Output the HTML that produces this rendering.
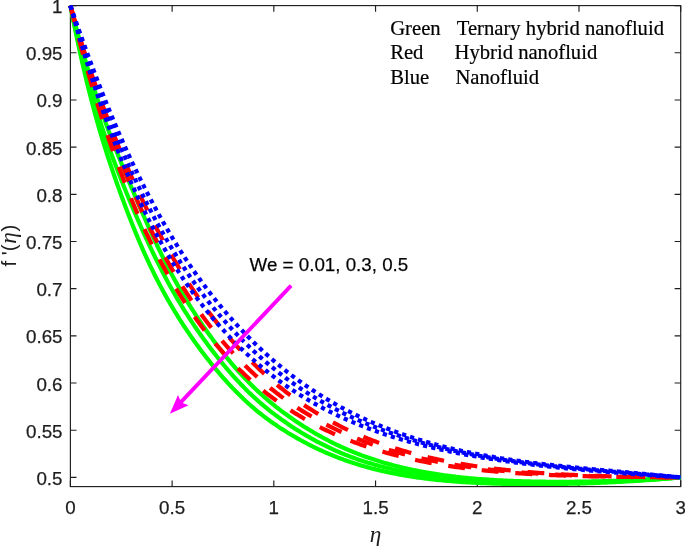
<!DOCTYPE html>
<html lang="en"><head><meta charset="utf-8"><title>Velocity profile</title>
<style>html,body{margin:0;padding:0;background:#fff}svg{display:block}</style></head>
<body>
<svg width="685" height="546" viewBox="0 0 685 546">
<rect width="685" height="546" fill="#fff"/>
<defs><clipPath id="c"><rect x="60" y="0" width="625" height="486.1"/></clipPath></defs>
<g stroke="#1e1e1e" stroke-width="1.15" fill="none">
<rect x="70.4" y="5.6" width="610.30" height="481.00"/>
<path d="M70.40,486.6 v-6.1 M70.40,5.6 v6.1"/>
<path d="M172.12,486.6 v-6.1 M172.12,5.6 v6.1"/>
<path d="M273.83,486.6 v-6.1 M273.83,5.6 v6.1"/>
<path d="M375.55,486.6 v-6.1 M375.55,5.6 v6.1"/>
<path d="M477.27,486.6 v-6.1 M477.27,5.6 v6.1"/>
<path d="M578.98,486.6 v-6.1 M578.98,5.6 v6.1"/>
<path d="M680.70,486.6 v-6.1 M680.70,5.6 v6.1"/>
<path d="M70.4,477.40 h6.1 M680.7,477.40 h-6.1"/>
<path d="M70.4,430.22 h6.1 M680.7,430.22 h-6.1"/>
<path d="M70.4,383.04 h6.1 M680.7,383.04 h-6.1"/>
<path d="M70.4,335.86 h6.1 M680.7,335.86 h-6.1"/>
<path d="M70.4,288.68 h6.1 M680.7,288.68 h-6.1"/>
<path d="M70.4,241.50 h6.1 M680.7,241.50 h-6.1"/>
<path d="M70.4,194.32 h6.1 M680.7,194.32 h-6.1"/>
<path d="M70.4,147.14 h6.1 M680.7,147.14 h-6.1"/>
<path d="M70.4,99.96 h6.1 M680.7,99.96 h-6.1"/>
<path d="M70.4,52.78 h6.1 M680.7,52.78 h-6.1"/>
<path d="M70.4,5.60 h6.1 M680.7,5.60 h-6.1"/>
</g>
<g font-family="'Liberation Sans', sans-serif" font-size="18.75" fill="#1e1e1e" stroke="#1e1e1e" stroke-width="0.25">
<text x="70.40" y="514.2" text-anchor="middle">0</text>
<text x="172.12" y="514.2" text-anchor="middle">0.5</text>
<text x="273.83" y="514.2" text-anchor="middle">1</text>
<text x="375.55" y="514.2" text-anchor="middle">1.5</text>
<text x="477.27" y="514.2" text-anchor="middle">2</text>
<text x="578.98" y="514.2" text-anchor="middle">2.5</text>
<text x="680.70" y="514.2" text-anchor="middle">3</text>
<text x="62.5" y="484.90" text-anchor="end">0.5</text>
<text x="62.5" y="437.72" text-anchor="end">0.55</text>
<text x="62.5" y="390.54" text-anchor="end">0.6</text>
<text x="62.5" y="343.36" text-anchor="end">0.65</text>
<text x="62.5" y="296.18" text-anchor="end">0.7</text>
<text x="62.5" y="249.00" text-anchor="end">0.75</text>
<text x="62.5" y="201.82" text-anchor="end">0.8</text>
<text x="62.5" y="154.64" text-anchor="end">0.85</text>
<text x="62.5" y="107.46" text-anchor="end">0.9</text>
<text x="62.5" y="60.28" text-anchor="end">0.95</text>
<text x="62.5" y="13.10" text-anchor="end">1</text>
<text x="249.6" y="271.2" fill="#000">We = 0.01, 0.3, 0.5</text>
</g>
<g fill="none" stroke-width="4.2" clip-path="url(#c)" stroke-linejoin="round">
<path d="M70.40,5.60 L71.93,13.45 L73.45,21.13 L74.98,28.65 L76.50,36.01 L78.03,43.22 L79.56,50.27 L81.08,57.18 L82.61,63.95 L84.14,70.58 L85.68,77.07 L87.21,83.43 L88.75,89.67 L90.29,95.79 L91.83,101.78 L93.38,107.65 L94.94,113.42 L96.50,119.07 L98.07,124.61 L99.64,130.05 L101.22,135.39 L102.80,140.63 L104.39,145.77 L105.98,150.82 L107.57,155.78 L109.16,160.65 L110.75,165.43 L112.34,170.13 L113.92,174.74 L115.50,179.28 L117.07,183.73 L118.63,188.11 L120.19,192.42 L121.73,196.66 L123.27,200.82 L124.80,204.92 L126.32,208.94 L127.84,212.91 L129.34,216.81 L130.85,220.65 L132.34,224.42 L133.83,228.14 L135.32,231.80 L136.80,235.41 L138.29,238.96 L139.77,242.45 L141.25,245.90 L142.73,249.29 L144.21,252.63 L145.69,255.92 L147.17,259.17 L148.66,262.37 L150.14,265.52 L151.63,268.63 L153.12,271.69 L154.62,274.71 L156.11,277.69 L157.61,280.63 L159.11,283.52 L160.61,286.38 L162.12,289.20 L163.63,291.98 L165.13,294.73 L166.64,297.44 L168.16,300.11 L169.67,302.75 L171.18,305.35 L172.70,307.92 L174.22,310.46 L175.73,312.96 L177.25,315.43 L178.77,317.88 L180.29,320.29 L181.81,322.67 L183.33,325.02 L184.86,327.35 L186.38,329.65 L187.90,331.92 L189.42,334.16 L190.95,336.37 L192.47,338.56 L194.00,340.73 L195.52,342.87 L197.05,344.98 L198.57,347.07 L200.09,349.14 L201.62,351.19 L203.14,353.21 L204.67,355.21 L206.20,357.19 L207.72,359.14 L209.25,361.07 L210.77,362.99 L212.30,364.88 L213.82,366.75 L215.35,368.60 L216.87,370.43 L218.40,372.23 L219.92,374.02 L221.45,375.79 L222.98,377.53 L224.50,379.26 L226.03,380.96 L227.55,382.65 L229.08,384.31 L230.60,385.95 L232.13,387.57 L233.66,389.17 L235.18,390.74 L236.71,392.30 L238.23,393.83 L239.76,395.34 L241.28,396.83 L242.81,398.30 L244.34,399.74 L245.86,401.16 L247.39,402.57 L248.91,403.94 L250.44,405.30 L251.96,406.64 L253.49,407.95 L255.02,409.25 L256.54,410.52 L258.07,411.77 L259.59,413.00 L261.12,414.21 L262.64,415.41 L264.17,416.58 L265.70,417.74 L267.22,418.87 L268.75,420.00 L270.27,421.10 L271.80,422.19 L273.32,423.26 L274.85,424.31 L276.38,425.35 L277.90,426.38 L279.43,427.39 L280.95,428.39 L282.48,429.37 L284.01,430.34 L285.53,431.30 L287.06,432.25 L288.58,433.18 L290.11,434.11 L291.63,435.02 L293.16,435.92 L294.69,436.80 L296.21,437.68 L297.74,438.55 L299.26,439.40 L300.79,440.25 L302.31,441.08 L303.84,441.90 L305.37,442.71 L306.89,443.51 L308.42,444.30 L309.94,445.08 L311.47,445.85 L312.99,446.61 L314.52,447.36 L316.05,448.10 L317.57,448.83 L319.10,449.54 L320.62,450.25 L322.15,450.95 L323.67,451.63 L325.20,452.31 L326.73,452.97 L328.25,453.63 L329.78,454.28 L331.30,454.91 L332.83,455.54 L334.35,456.15 L335.88,456.76 L337.41,457.36 L338.93,457.94 L340.46,458.52 L341.98,459.09 L343.51,459.65 L345.04,460.19 L346.56,460.73 L348.09,461.27 L349.61,461.79 L351.14,462.30 L352.66,462.80 L354.19,463.30 L355.72,463.79 L357.24,464.27 L358.77,464.74 L360.29,465.20 L361.82,465.65 L363.34,466.10 L364.87,466.54 L366.40,466.97 L367.92,467.39 L369.45,467.80 L370.97,468.21 L372.50,468.61 L374.02,469.00 L375.55,469.39 L377.08,469.76 L378.60,470.13 L380.13,470.50 L381.65,470.85 L383.18,471.20 L384.70,471.55 L386.23,471.88 L387.76,472.21 L389.28,472.54 L390.81,472.85 L392.33,473.16 L393.86,473.47 L395.38,473.77 L396.91,474.06 L398.44,474.35 L399.96,474.63 L401.49,474.90 L403.01,475.17 L404.54,475.43 L406.07,475.69 L407.59,475.94 L409.12,476.19 L410.64,476.43 L412.17,476.67 L413.69,476.90 L415.22,477.13 L416.75,477.35 L418.27,477.57 L419.80,477.78 L421.32,477.99 L422.85,478.19 L424.37,478.39 L425.90,478.58 L427.43,478.77 L428.95,478.96 L430.48,479.14 L432.00,479.31 L433.53,479.48 L435.05,479.65 L436.58,479.82 L438.11,479.98 L439.63,480.13 L441.16,480.28 L442.68,480.43 L444.21,480.58 L445.73,480.72 L447.26,480.85 L448.79,480.99 L450.31,481.12 L451.84,481.24 L453.36,481.37 L454.89,481.49 L456.41,481.60 L457.94,481.72 L459.47,481.83 L460.99,481.93 L462.52,482.04 L464.04,482.14 L465.57,482.24 L467.10,482.33 L468.62,482.42 L470.15,482.51 L471.67,482.60 L473.20,482.68 L474.72,482.76 L476.25,482.84 L477.78,482.92 L479.30,482.99 L480.83,483.06 L482.35,483.13 L483.88,483.19 L485.40,483.26 L486.93,483.32 L488.46,483.38 L489.98,483.43 L491.51,483.48 L493.03,483.54 L494.56,483.59 L496.08,483.63 L497.61,483.68 L499.14,483.72 L500.66,483.76 L502.19,483.80 L503.71,483.83 L505.24,483.87 L506.76,483.90 L508.29,483.93 L509.82,483.96 L511.34,483.99 L512.87,484.01 L514.39,484.03 L515.92,484.05 L517.44,484.07 L518.97,484.09 L520.50,484.11 L522.02,484.12 L523.55,484.13 L525.07,484.14 L526.60,484.15 L528.13,484.16 L529.65,484.16 L531.18,484.17 L532.70,484.17 L534.23,484.17 L535.75,484.17 L537.28,484.17 L538.81,484.16 L540.33,484.15 L541.86,484.15 L543.38,484.14 L544.91,484.13 L546.43,484.12 L547.96,484.10 L549.49,484.09 L551.01,484.07 L552.54,484.05 L554.06,484.03 L555.59,484.01 L557.11,483.99 L558.64,483.97 L560.17,483.94 L561.69,483.91 L563.22,483.88 L564.74,483.86 L566.27,483.82 L567.79,483.79 L569.32,483.76 L570.85,483.72 L572.37,483.69 L573.90,483.65 L575.42,483.61 L576.95,483.57 L578.47,483.53 L580.00,483.48 L581.53,483.44 L583.05,483.39 L584.58,483.34 L586.10,483.29 L587.63,483.24 L589.16,483.19 L590.68,483.14 L592.21,483.08 L593.73,483.03 L595.26,482.97 L596.78,482.91 L598.31,482.85 L599.84,482.79 L601.36,482.73 L602.89,482.66 L604.41,482.60 L605.94,482.53 L607.46,482.46 L608.99,482.39 L610.52,482.32 L612.04,482.24 L613.57,482.17 L615.09,482.09 L616.62,482.02 L618.14,481.94 L619.67,481.86 L621.20,481.78 L622.72,481.69 L624.25,481.61 L625.77,481.52 L627.30,481.44 L628.82,481.35 L630.35,481.26 L631.88,481.17 L633.40,481.07 L634.93,480.98 L636.45,480.88 L637.98,480.78 L639.50,480.68 L641.03,480.58 L642.56,480.48 L644.08,480.38 L645.61,480.27 L647.13,480.16 L648.66,480.05 L650.19,479.94 L651.71,479.83 L653.24,479.72 L654.76,479.60 L656.29,479.49 L657.81,479.37 L659.34,479.25 L660.87,479.13 L662.39,479.01 L663.92,478.88 L665.44,478.75 L666.97,478.63 L668.49,478.50 L670.02,478.37 L671.55,478.23 L673.07,478.10 L674.60,477.96 L676.12,477.82 L677.65,477.68 L679.17,477.54 L680.70,477.40" stroke="#00ff00"/>
<path d="M70.41,5.60 L71.93,12.87 L73.46,19.99 L75.00,26.96 L76.53,33.79 L78.07,40.47 L79.60,47.02 L81.15,53.43 L82.69,59.72 L84.25,65.87 L85.80,71.91 L87.37,77.83 L88.94,83.64 L90.51,89.33 L92.10,94.91 L93.69,100.39 L95.29,105.77 L96.90,111.05 L98.51,116.23 L100.13,121.32 L101.75,126.32 L103.38,131.23 L105.02,136.05 L106.66,140.79 L108.30,145.45 L109.93,150.03 L111.57,154.54 L113.21,158.97 L114.85,163.33 L116.48,167.61 L118.10,171.83 L119.72,175.98 L121.33,180.07 L122.94,184.09 L124.54,188.06 L126.12,191.96 L127.70,195.80 L129.27,199.59 L130.83,203.32 L132.38,207.00 L133.92,210.62 L135.46,214.20 L136.98,217.72 L138.49,221.20 L140.00,224.62 L141.50,228.00 L142.99,231.34 L144.48,234.63 L145.96,237.88 L147.44,241.08 L148.91,244.25 L150.37,247.37 L151.84,250.45 L153.30,253.50 L154.76,256.51 L156.22,259.48 L157.67,262.41 L159.13,265.31 L160.58,268.17 L162.04,271.00 L163.49,273.80 L164.95,276.56 L166.40,279.29 L167.86,281.99 L169.32,284.66 L170.78,287.30 L172.25,289.91 L173.71,292.49 L175.18,295.04 L176.65,297.57 L178.12,300.06 L179.59,302.53 L181.07,304.97 L182.54,307.39 L184.02,309.78 L185.51,312.14 L186.99,314.49 L188.48,316.80 L189.96,319.10 L191.45,321.37 L192.95,323.61 L194.44,325.84 L195.94,328.04 L197.43,330.22 L198.93,332.38 L200.43,334.52 L201.93,336.63 L203.44,338.73 L204.94,340.81 L206.45,342.86 L207.96,344.90 L209.47,346.92 L210.98,348.91 L212.49,350.89 L214.00,352.85 L215.51,354.79 L217.03,356.71 L218.54,358.61 L220.06,360.50 L221.57,362.36 L223.09,364.20 L224.61,366.02 L226.12,367.83 L227.64,369.61 L229.16,371.38 L230.68,373.12 L232.20,374.84 L233.72,376.55 L235.24,378.23 L236.76,379.89 L238.29,381.53 L239.81,383.15 L241.33,384.74 L242.85,386.32 L244.37,387.87 L245.90,389.40 L247.42,390.91 L248.94,392.40 L250.47,393.87 L251.99,395.31 L253.52,396.74 L255.04,398.14 L256.56,399.52 L258.09,400.88 L259.61,402.22 L261.14,403.55 L262.66,404.85 L264.19,406.13 L265.71,407.40 L267.24,408.64 L268.76,409.87 L270.29,411.08 L271.81,412.28 L273.34,413.46 L274.86,414.62 L276.39,415.76 L277.91,416.90 L279.44,418.01 L280.96,419.12 L282.49,420.20 L284.01,421.28 L285.54,422.34 L287.06,423.39 L288.59,424.43 L290.11,425.45 L291.64,426.46 L293.16,427.46 L294.69,428.44 L296.22,429.42 L297.74,430.38 L299.27,431.33 L300.79,432.27 L302.32,433.20 L303.84,434.11 L305.37,435.02 L306.89,435.91 L308.42,436.79 L309.95,437.66 L311.47,438.52 L313.00,439.37 L314.52,440.20 L316.05,441.03 L317.57,441.84 L319.10,442.64 L320.62,443.43 L322.15,444.21 L323.68,444.98 L325.20,445.74 L326.73,446.48 L328.25,447.21 L329.78,447.94 L331.30,448.65 L332.83,449.35 L334.36,450.04 L335.88,450.72 L337.41,451.39 L338.93,452.05 L340.46,452.70 L341.98,453.33 L343.51,453.96 L345.04,454.58 L346.56,455.18 L348.09,455.78 L349.61,456.37 L351.14,456.94 L352.66,457.51 L354.19,458.07 L355.72,458.61 L357.24,459.15 L358.77,459.68 L360.29,460.20 L361.82,460.71 L363.34,461.21 L364.87,461.71 L366.40,462.19 L367.92,462.67 L369.45,463.13 L370.97,463.59 L372.50,464.04 L374.02,464.48 L375.55,464.92 L377.08,465.34 L378.60,465.76 L380.13,466.17 L381.65,466.57 L383.18,466.97 L384.70,467.35 L386.23,467.73 L387.76,468.10 L389.28,468.47 L390.81,468.83 L392.33,469.18 L393.86,469.52 L395.39,469.86 L396.91,470.19 L398.44,470.51 L399.96,470.83 L401.49,471.14 L403.01,471.45 L404.54,471.74 L406.07,472.04 L407.59,472.32 L409.12,472.60 L410.64,472.88 L412.17,473.14 L413.69,473.41 L415.22,473.66 L416.75,473.92 L418.27,474.16 L419.80,474.40 L421.32,474.64 L422.85,474.87 L424.37,475.09 L425.90,475.31 L427.43,475.53 L428.95,475.74 L430.48,475.95 L432.00,476.15 L433.53,476.34 L435.05,476.54 L436.58,476.72 L438.11,476.91 L439.63,477.08 L441.16,477.26 L442.68,477.43 L444.21,477.60 L445.73,477.76 L447.26,477.92 L448.79,478.07 L450.31,478.22 L451.84,478.37 L453.36,478.51 L454.89,478.65 L456.41,478.79 L457.94,478.92 L459.47,479.05 L460.99,479.18 L462.52,479.30 L464.04,479.42 L465.57,479.54 L467.10,479.65 L468.62,479.76 L470.15,479.87 L471.67,479.97 L473.20,480.07 L474.72,480.17 L476.25,480.27 L477.78,480.36 L479.30,480.45 L480.83,480.54 L482.35,480.63 L483.88,480.71 L485.40,480.79 L486.93,480.87 L488.46,480.94 L489.98,481.01 L491.51,481.09 L493.03,481.15 L494.56,481.22 L496.08,481.28 L497.61,481.35 L499.14,481.40 L500.66,481.46 L502.19,481.52 L503.71,481.57 L505.24,481.62 L506.76,481.67 L508.29,481.72 L509.82,481.77 L511.34,481.81 L512.87,481.85 L514.39,481.89 L515.92,481.93 L517.44,481.97 L518.97,482.00 L520.50,482.03 L522.02,482.07 L523.55,482.10 L525.07,482.12 L526.60,482.15 L528.13,482.18 L529.65,482.20 L531.18,482.22 L532.70,482.24 L534.23,482.26 L535.75,482.28 L537.28,482.29 L538.81,482.31 L540.33,482.32 L541.86,482.33 L543.38,482.34 L544.91,482.35 L546.43,482.36 L547.96,482.37 L549.49,482.37 L551.01,482.37 L552.54,482.37 L554.06,482.38 L555.59,482.37 L557.11,482.37 L558.64,482.37 L560.17,482.36 L561.69,482.36 L563.22,482.35 L564.74,482.34 L566.27,482.33 L567.79,482.32 L569.32,482.31 L570.85,482.29 L572.37,482.28 L573.90,482.26 L575.42,482.24 L576.95,482.22 L578.47,482.20 L580.00,482.18 L581.53,482.16 L583.05,482.13 L584.58,482.11 L586.10,482.08 L587.63,482.05 L589.16,482.02 L590.68,481.99 L592.21,481.96 L593.73,481.92 L595.26,481.89 L596.78,481.85 L598.31,481.81 L599.84,481.77 L601.36,481.73 L602.89,481.69 L604.41,481.65 L605.94,481.60 L607.46,481.55 L608.99,481.51 L610.52,481.46 L612.04,481.41 L613.57,481.35 L615.09,481.30 L616.62,481.24 L618.14,481.19 L619.67,481.13 L621.20,481.07 L622.72,481.01 L624.25,480.95 L625.77,480.88 L627.30,480.82 L628.82,480.75 L630.35,480.68 L631.88,480.61 L633.40,480.54 L634.93,480.46 L636.45,480.39 L637.98,480.31 L639.50,480.23 L641.03,480.15 L642.56,480.07 L644.08,479.98 L645.61,479.90 L647.13,479.81 L648.66,479.72 L650.19,479.63 L651.71,479.53 L653.24,479.44 L654.76,479.34 L656.29,479.24 L657.81,479.14 L659.34,479.04 L660.87,478.94 L662.39,478.83 L663.92,478.72 L665.44,478.61 L666.97,478.50 L668.49,478.39 L670.02,478.27 L671.55,478.15 L673.07,478.03 L674.60,477.91 L676.12,477.79 L677.65,477.66 L679.17,477.53 L680.70,477.40" stroke="#00ff00"/>
<path d="M70.40,5.60 L71.93,11.54 L73.45,17.40 L74.98,23.19 L76.51,28.89 L78.04,34.52 L79.57,40.07 L81.10,45.55 L82.63,50.96 L84.17,56.29 L85.71,61.56 L87.25,66.75 L88.79,71.88 L90.34,76.95 L91.90,81.95 L93.46,86.88 L95.02,91.76 L96.60,96.57 L98.18,101.32 L99.77,106.02 L101.36,110.65 L102.96,115.23 L104.57,119.75 L106.19,124.22 L107.81,128.63 L109.44,132.99 L111.07,137.30 L112.71,141.55 L114.34,145.76 L115.98,149.91 L117.61,154.02 L119.25,158.07 L120.87,162.08 L122.50,166.04 L124.11,169.96 L125.72,173.83 L127.32,177.66 L128.91,181.44 L130.48,185.18 L132.05,188.88 L133.61,192.53 L135.15,196.15 L136.68,199.72 L138.20,203.25 L139.71,206.75 L141.21,210.20 L142.70,213.61 L144.19,216.99 L145.66,220.33 L147.13,223.63 L148.59,226.90 L150.05,230.13 L151.50,233.33 L152.95,236.49 L154.40,239.61 L155.84,242.70 L157.29,245.76 L158.73,248.79 L160.18,251.78 L161.63,254.74 L163.08,257.66 L164.53,260.56 L165.98,263.42 L167.44,266.26 L168.90,269.06 L170.36,271.84 L171.82,274.58 L173.29,277.30 L174.76,279.98 L176.24,282.64 L177.72,285.27 L179.20,287.87 L180.68,290.45 L182.17,293.00 L183.66,295.52 L185.15,298.01 L186.65,300.49 L188.15,302.93 L189.65,305.35 L191.15,307.75 L192.65,310.12 L194.16,312.47 L195.67,314.79 L197.18,317.09 L198.69,319.37 L200.20,321.62 L201.72,323.86 L203.23,326.07 L204.75,328.26 L206.27,330.42 L207.78,332.57 L209.30,334.69 L210.82,336.80 L212.34,338.88 L213.86,340.94 L215.38,342.99 L216.90,345.01 L218.43,347.01 L219.95,348.98 L221.47,350.94 L223.00,352.88 L224.52,354.80 L226.04,356.69 L227.57,358.56 L229.09,360.42 L230.62,362.25 L232.14,364.06 L233.66,365.84 L235.19,367.61 L236.71,369.35 L238.24,371.07 L239.76,372.77 L241.29,374.44 L242.81,376.09 L244.34,377.72 L245.86,379.33 L247.39,380.91 L248.92,382.48 L250.44,384.02 L251.97,385.53 L253.49,387.03 L255.02,388.50 L256.54,389.95 L258.07,391.38 L259.59,392.79 L261.12,394.18 L262.65,395.55 L264.17,396.90 L265.70,398.23 L267.22,399.54 L268.75,400.83 L270.27,402.10 L271.80,403.36 L273.33,404.60 L274.85,405.83 L276.38,407.04 L277.90,408.23 L279.43,409.41 L280.95,410.57 L282.48,411.72 L284.01,412.85 L285.53,413.98 L287.06,415.08 L288.58,416.18 L290.11,417.26 L291.63,418.33 L293.16,419.39 L294.69,420.44 L296.21,421.47 L297.74,422.49 L299.26,423.50 L300.79,424.50 L302.31,425.49 L303.84,426.46 L305.37,427.42 L306.89,428.38 L308.42,429.32 L309.94,430.25 L311.47,431.16 L312.99,432.07 L314.52,432.96 L316.05,433.85 L317.57,434.72 L319.10,435.58 L320.62,436.43 L322.15,437.27 L323.67,438.10 L325.20,438.91 L326.73,439.72 L328.25,440.51 L329.78,441.29 L331.30,442.07 L332.83,442.83 L334.35,443.58 L335.88,444.32 L337.41,445.05 L338.93,445.77 L340.46,446.47 L341.98,447.17 L343.51,447.86 L345.04,448.54 L346.56,449.21 L348.09,449.86 L349.61,450.51 L351.14,451.15 L352.66,451.78 L354.19,452.40 L355.72,453.00 L357.24,453.60 L358.77,454.19 L360.29,454.78 L361.82,455.35 L363.34,455.91 L364.87,456.47 L366.40,457.01 L367.92,457.55 L369.45,458.08 L370.97,458.60 L372.50,459.11 L374.02,459.61 L375.55,460.10 L377.08,460.59 L378.60,461.07 L380.13,461.54 L381.65,462.00 L383.18,462.46 L384.70,462.90 L386.23,463.34 L387.76,463.78 L389.28,464.20 L390.81,464.62 L392.33,465.03 L393.86,465.43 L395.38,465.83 L396.91,466.21 L398.44,466.60 L399.96,466.97 L401.49,467.34 L403.01,467.70 L404.54,468.06 L406.07,468.41 L407.59,468.75 L409.12,469.09 L410.64,469.42 L412.17,469.74 L413.69,470.06 L415.22,470.37 L416.75,470.67 L418.27,470.97 L419.80,471.27 L421.32,471.56 L422.85,471.84 L424.37,472.12 L425.90,472.39 L427.43,472.66 L428.95,472.92 L430.48,473.17 L432.00,473.43 L433.53,473.67 L435.05,473.91 L436.58,474.15 L438.11,474.38 L439.63,474.61 L441.16,474.83 L442.68,475.04 L444.21,475.26 L445.73,475.46 L447.26,475.67 L448.79,475.87 L450.31,476.06 L451.84,476.25 L453.36,476.44 L454.89,476.62 L456.41,476.80 L457.94,476.97 L459.47,477.14 L460.99,477.30 L462.52,477.47 L464.04,477.62 L465.57,477.78 L467.10,477.93 L468.62,478.07 L470.15,478.22 L471.67,478.36 L473.20,478.49 L474.72,478.62 L476.25,478.75 L477.78,478.88 L479.30,479.00 L480.83,479.12 L482.35,479.24 L483.88,479.35 L485.40,479.46 L486.93,479.57 L488.46,479.67 L489.98,479.77 L491.51,479.87 L493.03,479.96 L494.56,480.05 L496.08,480.14 L497.61,480.23 L499.14,480.31 L500.66,480.39 L502.19,480.47 L503.71,480.55 L505.24,480.62 L506.76,480.69 L508.29,480.76 L509.82,480.82 L511.34,480.89 L512.87,480.95 L514.39,481.00 L515.92,481.06 L517.44,481.11 L518.97,481.17 L520.50,481.21 L522.02,481.26 L523.55,481.31 L525.07,481.35 L526.60,481.39 L528.13,481.43 L529.65,481.46 L531.18,481.50 L532.70,481.53 L534.23,481.56 L535.75,481.59 L537.28,481.62 L538.81,481.64 L540.33,481.66 L541.86,481.68 L543.38,481.70 L544.91,481.72 L546.43,481.74 L547.96,481.75 L549.49,481.76 L551.01,481.77 L552.54,481.78 L554.06,481.79 L555.59,481.79 L557.11,481.80 L558.64,481.80 L560.17,481.80 L561.69,481.80 L563.22,481.79 L564.74,481.79 L566.27,481.78 L567.79,481.78 L569.32,481.77 L570.85,481.76 L572.37,481.74 L573.90,481.73 L575.42,481.72 L576.95,481.70 L578.47,481.68 L580.00,481.66 L581.53,481.64 L583.05,481.62 L584.58,481.59 L586.10,481.57 L587.63,481.54 L589.16,481.52 L590.68,481.49 L592.21,481.46 L593.73,481.42 L595.26,481.39 L596.78,481.36 L598.31,481.32 L599.84,481.28 L601.36,481.24 L602.89,481.20 L604.41,481.16 L605.94,481.12 L607.46,481.08 L608.99,481.03 L610.52,480.98 L612.04,480.94 L613.57,480.89 L615.09,480.84 L616.62,480.78 L618.14,480.73 L619.67,480.68 L621.20,480.62 L622.72,480.56 L624.25,480.50 L625.77,480.44 L627.30,480.38 L628.82,480.32 L630.35,480.26 L631.88,480.19 L633.40,480.13 L634.93,480.06 L636.45,479.99 L637.98,479.92 L639.50,479.85 L641.03,479.78 L642.56,479.70 L644.08,479.63 L645.61,479.55 L647.13,479.47 L648.66,479.39 L650.19,479.31 L651.71,479.23 L653.24,479.14 L654.76,479.06 L656.29,478.97 L657.81,478.89 L659.34,478.80 L660.87,478.71 L662.39,478.61 L663.92,478.52 L665.44,478.43 L666.97,478.33 L668.49,478.23 L670.02,478.13 L671.55,478.03 L673.07,477.93 L674.60,477.83 L676.12,477.72 L677.65,477.62 L679.17,477.51 L680.70,477.40" stroke="#00ff00"/>
<path d="M70.40,5.60 L71.93,11.75 L73.45,17.83 L74.98,23.83 L76.50,29.76 L78.03,35.62 L79.55,41.40 L81.08,47.11 L82.61,52.74 L84.13,58.31 L85.66,63.81 L87.18,69.23 L88.71,74.59 L90.23,79.87 L91.76,85.09 L93.29,90.25 L94.81,95.33 L96.34,100.35 L97.86,105.31 L99.39,110.20 L100.92,115.03 L102.44,119.79 L103.97,124.50 L105.49,129.14 L107.02,133.72 L108.54,138.24 L110.07,142.70 L111.60,147.10 L113.12,151.45 L114.65,155.74 L116.17,159.97 L117.70,164.15 L119.22,168.27 L120.75,172.33 L122.28,176.35 L123.80,180.31 L125.33,184.21 L126.85,188.07 L128.38,191.88 L129.90,195.63 L131.43,199.34 L132.96,202.99 L134.48,206.60 L136.01,210.16 L137.53,213.68 L139.06,217.14 L140.58,220.57 L142.11,223.94 L143.64,227.28 L145.16,230.57 L146.69,233.81 L148.21,237.02 L149.74,240.18 L151.26,243.30 L152.79,246.38 L154.32,249.41 L155.84,252.41 L157.37,255.37 L158.89,258.30 L160.42,261.18 L161.94,264.02 L163.47,266.83 L165.00,269.61 L166.52,272.34 L168.05,275.04 L169.57,277.71 L171.10,280.34 L172.63,282.94 L174.15,285.50 L175.68,288.03 L177.20,290.53 L178.73,293.00 L180.25,295.44 L181.78,297.84 L183.31,300.21 L184.83,302.56 L186.36,304.87 L187.88,307.15 L189.41,309.41 L190.93,311.63 L192.46,313.83 L193.99,316.00 L195.51,318.14 L197.04,320.26 L198.56,322.35 L200.09,324.41 L201.61,326.45 L203.14,328.46 L204.67,330.44 L206.19,332.40 L207.72,334.34 L209.24,336.25 L210.77,338.14 L212.29,340.00 L213.82,341.84 L215.35,343.66 L216.87,345.46 L218.40,347.23 L219.92,348.98 L221.45,350.71 L222.98,352.42 L224.50,354.11 L226.03,355.78 L227.55,357.42 L229.08,359.05 L230.60,360.65 L232.13,362.24 L233.66,363.80 L235.18,365.35 L236.71,366.88 L238.23,368.39 L239.76,369.88 L241.28,371.35 L242.81,372.80 L244.34,374.24 L245.86,375.66 L247.39,377.06 L248.91,378.45 L250.44,379.81 L251.96,381.16 L253.49,382.50 L255.02,383.82 L256.54,385.12 L258.07,386.40 L259.59,387.67 L261.12,388.93 L262.64,390.17 L264.17,391.39 L265.70,392.60 L267.22,393.79 L268.75,394.97 L270.27,396.14 L271.80,397.29 L273.32,398.43 L274.85,399.55 L276.38,400.66 L277.90,401.75 L279.43,402.84 L280.95,403.90 L282.48,404.96 L284.01,406.00 L285.53,407.03 L287.06,408.05 L288.58,409.06 L290.11,410.05 L291.63,411.03 L293.16,412.00 L294.69,412.95 L296.21,413.90 L297.74,414.83 L299.26,415.75 L300.79,416.66 L302.31,417.56 L303.84,418.45 L305.37,419.32 L306.89,420.19 L308.42,421.04 L309.94,421.88 L311.47,422.72 L312.99,423.54 L314.52,424.35 L316.05,425.15 L317.57,425.95 L319.10,426.73 L320.62,427.50 L322.15,428.26 L323.67,429.02 L325.20,429.76 L326.73,430.49 L328.25,431.22 L329.78,431.93 L331.30,432.64 L332.83,433.33 L334.35,434.02 L335.88,434.70 L337.41,435.37 L338.93,436.03 L340.46,436.68 L341.98,437.33 L343.51,437.97 L345.03,438.59 L346.56,439.21 L348.09,439.82 L349.61,440.43 L351.14,441.02 L352.66,441.61 L354.19,442.19 L355.72,442.76 L357.24,443.33 L358.77,443.88 L360.29,444.43 L361.82,444.97 L363.34,445.51 L364.87,446.04 L366.40,446.56 L367.92,447.07 L369.45,447.58 L370.97,448.08 L372.50,448.57 L374.02,449.06 L375.55,449.53 L377.08,450.01 L378.60,450.47 L380.13,450.93 L381.65,451.39 L383.18,451.83 L384.70,452.27 L386.23,452.71 L387.76,453.14 L389.28,453.56 L390.81,453.98 L392.33,454.39 L393.86,454.79 L395.38,455.19 L396.91,455.58 L398.44,455.97 L399.96,456.35 L401.49,456.73 L403.01,457.10 L404.54,457.46 L406.07,457.82 L407.59,458.18 L409.12,458.53 L410.64,458.87 L412.17,459.21 L413.69,459.55 L415.22,459.88 L416.75,460.20 L418.27,460.52 L419.80,460.83 L421.32,461.14 L422.85,461.45 L424.37,461.75 L425.90,462.05 L427.43,462.34 L428.95,462.62 L430.48,462.91 L432.00,463.18 L433.53,463.46 L435.05,463.73 L436.58,463.99 L438.11,464.25 L439.63,464.51 L441.16,464.76 L442.68,465.01 L444.21,465.26 L445.73,465.50 L447.26,465.74 L448.79,465.97 L450.31,466.20 L451.84,466.42 L453.36,466.65 L454.89,466.86 L456.41,467.08 L457.94,467.29 L459.47,467.50 L460.99,467.70 L462.52,467.90 L464.04,468.10 L465.57,468.30 L467.10,468.49 L468.62,468.67 L470.15,468.86 L471.67,469.04 L473.20,469.22 L474.72,469.39 L476.25,469.57 L477.78,469.73 L479.30,469.90 L480.83,470.06 L482.35,470.22 L483.88,470.38 L485.40,470.54 L486.93,470.69 L488.46,470.84 L489.98,470.98 L491.51,471.13 L493.03,471.27 L494.56,471.41 L496.08,471.55 L497.61,471.68 L499.14,471.81 L500.66,471.94 L502.19,472.07 L503.71,472.19 L505.24,472.31 L506.76,472.43 L508.29,472.55 L509.82,472.66 L511.34,472.78 L512.87,472.89 L514.39,473.00 L515.92,473.10 L517.44,473.21 L518.97,473.31 L520.50,473.41 L522.02,473.51 L523.55,473.60 L525.07,473.70 L526.60,473.79 L528.13,473.88 L529.65,473.97 L531.18,474.06 L532.70,474.14 L534.23,474.23 L535.75,474.31 L537.28,474.39 L538.81,474.47 L540.33,474.55 L541.86,474.62 L543.38,474.69 L544.91,474.77 L546.43,474.84 L547.96,474.91 L549.49,474.97 L551.01,475.04 L552.54,475.11 L554.06,475.17 L555.59,475.23 L557.11,475.29 L558.64,475.35 L560.17,475.41 L561.69,475.47 L563.22,475.52 L564.74,475.58 L566.27,475.63 L567.79,475.68 L569.32,475.73 L570.85,475.78 L572.37,475.83 L573.90,475.88 L575.42,475.92 L576.95,475.97 L578.47,476.01 L580.00,476.06 L581.53,476.10 L583.05,476.14 L584.58,476.18 L586.10,476.22 L587.63,476.26 L589.15,476.29 L590.68,476.33 L592.21,476.37 L593.73,476.40 L595.26,476.44 L596.78,476.47 L598.31,476.50 L599.84,476.53 L601.36,476.56 L602.89,476.59 L604.41,476.62 L605.94,476.65 L607.46,476.68 L608.99,476.70 L610.52,476.73 L612.04,476.76 L613.57,476.78 L615.09,476.80 L616.62,476.83 L618.14,476.85 L619.67,476.87 L621.20,476.89 L622.72,476.92 L624.25,476.94 L625.77,476.96 L627.30,476.98 L628.82,477.00 L630.35,477.01 L631.88,477.03 L633.40,477.05 L634.93,477.07 L636.45,477.08 L637.98,477.10 L639.50,477.11 L641.03,477.13 L642.56,477.14 L644.08,477.16 L645.61,477.17 L647.13,477.19 L648.66,477.20 L650.19,477.21 L651.71,477.22 L653.24,477.24 L654.76,477.25 L656.29,477.26 L657.81,477.27 L659.34,477.28 L660.87,477.29 L662.39,477.30 L663.92,477.31 L665.44,477.32 L666.97,477.33 L668.49,477.34 L670.02,477.35 L671.55,477.35 L673.07,477.36 L674.60,477.37 L676.12,477.38 L677.65,477.39 L679.17,477.39 L680.70,477.40" stroke="#ff0000" stroke-dasharray="16.85 16.85"/>
<path d="M70.40,5.60 L71.93,11.20 L73.45,16.74 L74.98,22.22 L76.50,27.64 L78.03,33.00 L79.55,38.30 L81.08,43.55 L82.61,48.73 L84.13,53.86 L85.66,58.93 L87.18,63.95 L88.71,68.91 L90.23,73.81 L91.76,78.66 L93.29,83.45 L94.81,88.20 L96.34,92.88 L97.86,97.52 L99.39,102.10 L100.92,106.64 L102.44,111.12 L103.97,115.55 L105.49,119.93 L107.02,124.26 L108.54,128.54 L110.07,132.77 L111.60,136.96 L113.12,141.10 L114.65,145.19 L116.17,149.23 L117.70,153.23 L119.22,157.18 L120.75,161.09 L122.28,164.95 L123.80,168.77 L125.33,172.54 L126.85,176.27 L128.38,179.96 L129.90,183.61 L131.43,187.21 L132.96,190.77 L134.48,194.30 L136.01,197.78 L137.53,201.22 L139.06,204.62 L140.58,207.98 L142.11,211.30 L143.64,214.59 L145.16,217.84 L146.69,221.05 L148.21,224.22 L149.74,227.35 L151.26,230.45 L152.79,233.52 L154.32,236.54 L155.84,239.54 L157.37,242.50 L158.89,245.42 L160.42,248.31 L161.94,251.17 L163.47,253.99 L165.00,256.78 L166.52,259.54 L168.05,262.26 L169.57,264.96 L171.10,267.62 L172.63,270.25 L174.15,272.86 L175.68,275.43 L177.20,277.97 L178.73,280.48 L180.25,282.96 L181.78,285.42 L183.31,287.84 L184.83,290.24 L186.36,292.61 L187.88,294.95 L189.41,297.26 L190.93,299.55 L192.46,301.81 L193.99,304.05 L195.51,306.26 L197.04,308.44 L198.56,310.60 L200.09,312.73 L201.61,314.83 L203.14,316.92 L204.67,318.98 L206.19,321.01 L207.72,323.02 L209.24,325.01 L210.77,326.97 L212.29,328.91 L213.82,330.83 L215.35,332.73 L216.87,334.60 L218.40,336.45 L219.92,338.28 L221.45,340.09 L222.98,341.88 L224.50,343.65 L226.03,345.39 L227.55,347.12 L229.08,348.83 L230.60,350.51 L232.13,352.18 L233.66,353.82 L235.18,355.45 L236.71,357.06 L238.23,358.65 L239.76,360.22 L241.28,361.77 L242.81,363.31 L244.34,364.82 L245.86,366.32 L247.39,367.80 L248.91,369.26 L250.44,370.71 L251.96,372.14 L253.49,373.55 L255.02,374.95 L256.54,376.33 L258.07,377.69 L259.59,379.04 L261.12,380.37 L262.64,381.68 L264.17,382.98 L265.70,384.27 L267.22,385.54 L268.75,386.79 L270.27,388.03 L271.80,389.26 L273.32,390.47 L274.85,391.66 L276.38,392.84 L277.90,394.01 L279.43,395.17 L280.95,396.31 L282.48,397.43 L284.01,398.55 L285.53,399.65 L287.06,400.73 L288.58,401.81 L290.11,402.87 L291.63,403.91 L293.16,404.95 L294.69,405.97 L296.21,406.98 L297.74,407.98 L299.26,408.97 L300.79,409.94 L302.31,410.91 L303.84,411.86 L305.37,412.80 L306.89,413.73 L308.42,414.64 L309.94,415.55 L311.47,416.45 L312.99,417.33 L314.52,418.20 L316.05,419.07 L317.57,419.92 L319.10,420.76 L320.62,421.59 L322.15,422.41 L323.67,423.22 L325.20,424.03 L326.73,424.82 L328.25,425.60 L329.78,426.37 L331.30,427.13 L332.83,427.89 L334.35,428.63 L335.88,429.36 L337.41,430.09 L338.93,430.80 L340.46,431.51 L341.98,432.21 L343.51,432.90 L345.03,433.58 L346.56,434.25 L348.09,434.92 L349.61,435.57 L351.14,436.22 L352.66,436.86 L354.19,437.49 L355.72,438.11 L357.24,438.73 L358.77,439.33 L360.29,439.93 L361.82,440.52 L363.34,441.11 L364.87,441.68 L366.40,442.25 L367.92,442.81 L369.45,443.37 L370.97,443.91 L372.50,444.45 L374.02,444.98 L375.55,445.51 L377.08,446.03 L378.60,446.54 L380.13,447.04 L381.65,447.54 L383.18,448.03 L384.70,448.52 L386.23,449.00 L387.76,449.47 L389.28,449.93 L390.81,450.39 L392.33,450.85 L393.86,451.29 L395.38,451.74 L396.91,452.17 L398.44,452.60 L399.96,453.02 L401.49,453.44 L403.01,453.85 L404.54,454.26 L406.07,454.66 L407.59,455.05 L409.12,455.44 L410.64,455.82 L412.17,456.20 L413.69,456.58 L415.22,456.94 L416.75,457.31 L418.27,457.66 L419.80,458.02 L421.32,458.36 L422.85,458.70 L424.37,459.04 L425.90,459.37 L427.43,459.70 L428.95,460.02 L430.48,460.34 L432.00,460.66 L433.53,460.96 L435.05,461.27 L436.58,461.57 L438.11,461.86 L439.63,462.15 L441.16,462.44 L442.68,462.72 L444.21,463.00 L445.73,463.27 L447.26,463.54 L448.79,463.81 L450.31,464.07 L451.84,464.33 L453.36,464.58 L454.89,464.83 L456.41,465.08 L457.94,465.32 L459.47,465.56 L460.99,465.79 L462.52,466.02 L464.04,466.25 L465.57,466.47 L467.10,466.69 L468.62,466.91 L470.15,467.12 L471.67,467.33 L473.20,467.53 L474.72,467.74 L476.25,467.94 L477.78,468.13 L479.30,468.32 L480.83,468.51 L482.35,468.70 L483.88,468.88 L485.40,469.06 L486.93,469.24 L488.46,469.42 L489.98,469.59 L491.51,469.75 L493.03,469.92 L494.56,470.08 L496.08,470.24 L497.61,470.40 L499.14,470.55 L500.66,470.70 L502.19,470.85 L503.71,471.00 L505.24,471.14 L506.76,471.28 L508.29,471.42 L509.82,471.56 L511.34,471.69 L512.87,471.82 L514.39,471.95 L515.92,472.08 L517.44,472.20 L518.97,472.32 L520.50,472.44 L522.02,472.56 L523.55,472.68 L525.07,472.79 L526.60,472.90 L528.13,473.01 L529.65,473.11 L531.18,473.22 L532.70,473.32 L534.23,473.42 L535.75,473.52 L537.28,473.62 L538.81,473.71 L540.33,473.80 L541.86,473.90 L543.38,473.98 L544.91,474.07 L546.43,474.16 L547.96,474.24 L549.49,474.32 L551.01,474.40 L552.54,474.48 L554.06,474.56 L555.59,474.64 L557.11,474.71 L558.64,474.78 L560.17,474.85 L561.69,474.92 L563.22,474.99 L564.74,475.06 L566.27,475.12 L567.79,475.18 L569.32,475.25 L570.85,475.31 L572.37,475.37 L573.90,475.43 L575.42,475.48 L576.95,475.54 L578.47,475.59 L580.00,475.65 L581.53,475.70 L583.05,475.75 L584.58,475.80 L586.10,475.85 L587.63,475.89 L589.15,475.94 L590.68,475.99 L592.21,476.03 L593.73,476.07 L595.26,476.12 L596.78,476.16 L598.31,476.20 L599.84,476.24 L601.36,476.28 L602.89,476.31 L604.41,476.35 L605.94,476.39 L607.46,476.42 L608.99,476.45 L610.52,476.49 L612.04,476.52 L613.57,476.55 L615.09,476.58 L616.62,476.61 L618.14,476.64 L619.67,476.67 L621.20,476.70 L622.72,476.73 L624.25,476.75 L625.77,476.78 L627.30,476.80 L628.82,476.83 L630.35,476.85 L631.88,476.88 L633.40,476.90 L634.93,476.92 L636.45,476.94 L637.98,476.96 L639.50,476.98 L641.03,477.00 L642.56,477.02 L644.08,477.04 L645.61,477.06 L647.13,477.08 L648.66,477.10 L650.19,477.12 L651.71,477.13 L653.24,477.15 L654.76,477.17 L656.29,477.18 L657.81,477.20 L659.34,477.21 L660.87,477.23 L662.39,477.24 L663.92,477.26 L665.44,477.27 L666.97,477.29 L668.49,477.30 L670.02,477.31 L671.55,477.33 L673.07,477.34 L674.60,477.35 L676.12,477.36 L677.65,477.38 L679.17,477.39 L680.70,477.40" stroke="#ff0000" stroke-dasharray="16.85 16.85"/>
<path d="M70.40,5.60 L71.93,10.91 L73.45,16.14 L74.98,21.32 L76.50,26.43 L78.03,31.48 L79.55,36.47 L81.08,41.41 L82.61,46.28 L84.13,51.09 L85.66,55.85 L87.18,60.56 L88.71,65.21 L90.23,69.80 L91.76,74.35 L93.29,78.84 L94.81,83.28 L96.34,87.67 L97.86,92.01 L99.39,96.31 L100.92,100.56 L102.44,104.76 L103.97,108.91 L105.49,113.02 L107.02,117.09 L108.54,121.11 L110.07,125.09 L111.60,129.02 L113.12,132.92 L114.65,136.77 L116.17,140.58 L117.70,144.35 L119.22,148.08 L120.75,151.78 L122.28,155.43 L123.80,159.05 L125.33,162.62 L126.85,166.17 L128.38,169.67 L129.90,173.14 L131.43,176.57 L132.96,179.97 L134.48,183.34 L136.01,186.67 L137.53,189.96 L139.06,193.23 L140.58,196.45 L142.11,199.65 L143.64,202.82 L145.16,205.95 L146.69,209.05 L148.21,212.12 L149.74,215.16 L151.26,218.17 L152.79,221.14 L154.32,224.09 L155.84,227.01 L157.37,229.90 L158.89,232.76 L160.42,235.59 L161.94,238.40 L163.47,241.17 L165.00,243.92 L166.52,246.64 L168.05,249.34 L169.57,252.00 L171.10,254.64 L172.63,257.25 L174.15,259.84 L175.68,262.40 L177.20,264.94 L178.73,267.45 L180.25,269.93 L181.78,272.39 L183.31,274.83 L184.83,277.24 L186.36,279.63 L187.88,281.99 L189.41,284.33 L190.93,286.64 L192.46,288.94 L193.99,291.20 L195.51,293.45 L197.04,295.67 L198.56,297.87 L200.09,300.05 L201.61,302.21 L203.14,304.34 L204.67,306.45 L206.19,308.54 L207.72,310.61 L209.24,312.66 L210.77,314.69 L212.29,316.69 L213.82,318.68 L215.35,320.64 L216.87,322.59 L218.40,324.51 L219.92,326.41 L221.45,328.30 L222.98,330.16 L224.50,332.01 L226.03,333.84 L227.55,335.64 L229.08,337.43 L230.60,339.20 L232.13,340.95 L233.66,342.68 L235.18,344.39 L236.71,346.09 L238.23,347.77 L239.76,349.43 L241.28,351.07 L242.81,352.69 L244.34,354.30 L245.86,355.89 L247.39,357.46 L248.91,359.02 L250.44,360.55 L251.96,362.08 L253.49,363.58 L255.02,365.07 L256.54,366.54 L258.07,368.00 L259.59,369.44 L261.12,370.86 L262.64,372.27 L264.17,373.67 L265.70,375.04 L267.22,376.41 L268.75,377.75 L270.27,379.09 L271.80,380.40 L273.32,381.71 L274.85,382.99 L276.38,384.27 L277.90,385.53 L279.43,386.77 L280.95,388.00 L282.48,389.22 L284.01,390.42 L285.53,391.61 L287.06,392.79 L288.58,393.95 L290.11,395.10 L291.63,396.23 L293.16,397.36 L294.69,398.47 L296.21,399.56 L297.74,400.65 L299.26,401.72 L300.79,402.78 L302.31,403.82 L303.84,404.86 L305.37,405.88 L306.89,406.89 L308.42,407.89 L309.94,408.87 L311.47,409.85 L312.99,410.81 L314.52,411.76 L316.05,412.70 L317.57,413.63 L319.10,414.55 L320.62,415.45 L322.15,416.35 L323.67,417.23 L325.20,418.11 L326.73,418.97 L328.25,419.82 L329.78,420.66 L331.30,421.50 L332.83,422.32 L334.35,423.13 L335.88,423.93 L337.41,424.72 L338.93,425.50 L340.46,426.28 L341.98,427.04 L343.51,427.79 L345.03,428.53 L346.56,429.27 L348.09,429.99 L349.61,430.71 L351.14,431.42 L352.66,432.11 L354.19,432.80 L355.72,433.48 L357.24,434.16 L358.77,434.82 L360.29,435.47 L361.82,436.12 L363.34,436.76 L364.87,437.39 L366.40,438.01 L367.92,438.62 L369.45,439.23 L370.97,439.82 L372.50,440.41 L374.02,441.00 L375.55,441.57 L377.08,442.14 L378.60,442.70 L380.13,443.25 L381.65,443.79 L383.18,444.33 L384.70,444.86 L386.23,445.39 L387.76,445.90 L389.28,446.41 L390.81,446.91 L392.33,447.41 L393.86,447.90 L395.38,448.38 L396.91,448.86 L398.44,449.33 L399.96,449.79 L401.49,450.25 L403.01,450.70 L404.54,451.14 L406.07,451.58 L407.59,452.01 L409.12,452.44 L410.64,452.86 L412.17,453.27 L413.69,453.68 L415.22,454.09 L416.75,454.48 L418.27,454.88 L419.80,455.26 L421.32,455.64 L422.85,456.02 L424.37,456.39 L425.90,456.76 L427.43,457.12 L428.95,457.47 L430.48,457.82 L432.00,458.17 L433.53,458.51 L435.05,458.84 L436.58,459.17 L438.11,459.50 L439.63,459.82 L441.16,460.13 L442.68,460.44 L444.21,460.75 L445.73,461.05 L447.26,461.35 L448.79,461.65 L450.31,461.94 L451.84,462.22 L453.36,462.50 L454.89,462.78 L456.41,463.05 L457.94,463.32 L459.47,463.58 L460.99,463.84 L462.52,464.10 L464.04,464.35 L465.57,464.60 L467.10,464.85 L468.62,465.09 L470.15,465.33 L471.67,465.56 L473.20,465.79 L474.72,466.02 L476.25,466.24 L477.78,466.46 L479.30,466.68 L480.83,466.89 L482.35,467.10 L483.88,467.31 L485.40,467.51 L486.93,467.71 L488.46,467.91 L489.98,468.10 L491.51,468.29 L493.03,468.48 L494.56,468.66 L496.08,468.85 L497.61,469.03 L499.14,469.20 L500.66,469.37 L502.19,469.54 L503.71,469.71 L505.24,469.88 L506.76,470.04 L508.29,470.20 L509.82,470.35 L511.34,470.51 L512.87,470.66 L514.39,470.81 L515.92,470.96 L517.44,471.10 L518.97,471.24 L520.50,471.38 L522.02,471.52 L523.55,471.65 L525.07,471.79 L526.60,471.92 L528.13,472.04 L529.65,472.17 L531.18,472.29 L532.70,472.41 L534.23,472.53 L535.75,472.65 L537.28,472.76 L538.81,472.88 L540.33,472.99 L541.86,473.10 L543.38,473.20 L544.91,473.31 L546.43,473.41 L547.96,473.51 L549.49,473.61 L551.01,473.71 L552.54,473.80 L554.06,473.90 L555.59,473.99 L557.11,474.08 L558.64,474.17 L560.17,474.26 L561.69,474.34 L563.22,474.43 L564.74,474.51 L566.27,474.59 L567.79,474.67 L569.32,474.74 L570.85,474.82 L572.37,474.89 L573.90,474.97 L575.42,475.04 L576.95,475.11 L578.47,475.18 L580.00,475.24 L581.53,475.31 L583.05,475.37 L584.58,475.44 L586.10,475.50 L587.63,475.56 L589.15,475.62 L590.68,475.68 L592.21,475.73 L593.73,475.79 L595.26,475.84 L596.78,475.90 L598.31,475.95 L599.84,476.00 L601.36,476.05 L602.89,476.10 L604.41,476.14 L605.94,476.19 L607.46,476.23 L608.99,476.28 L610.52,476.32 L612.04,476.36 L613.57,476.40 L615.09,476.44 L616.62,476.48 L618.14,476.52 L619.67,476.56 L621.20,476.59 L622.72,476.63 L624.25,476.66 L625.77,476.70 L627.30,476.73 L628.82,476.76 L630.35,476.79 L631.88,476.82 L633.40,476.85 L634.93,476.88 L636.45,476.91 L637.98,476.93 L639.50,476.96 L641.03,476.98 L642.56,477.01 L644.08,477.03 L645.61,477.05 L647.13,477.08 L648.66,477.10 L650.19,477.12 L651.71,477.14 L653.24,477.16 L654.76,477.18 L656.29,477.19 L657.81,477.21 L659.34,477.23 L660.87,477.24 L662.39,477.26 L663.92,477.27 L665.44,477.29 L666.97,477.30 L668.49,477.32 L670.02,477.33 L671.55,477.34 L673.07,477.35 L674.60,477.36 L676.12,477.37 L677.65,477.38 L679.17,477.39 L680.70,477.40" stroke="#ff0000" stroke-dasharray="16.85 16.85"/>
<path d="M70.40,5.60 L71.93,11.15 L73.45,16.64 L74.98,22.06 L76.50,27.42 L78.03,32.72 L79.55,37.95 L81.08,43.12 L82.61,48.23 L84.13,53.28 L85.66,58.27 L87.18,63.20 L88.71,68.07 L90.23,72.89 L91.76,77.64 L93.29,82.34 L94.81,86.99 L96.34,91.58 L97.86,96.11 L99.39,100.59 L100.92,105.02 L102.44,109.39 L103.97,113.71 L105.49,117.98 L107.02,122.19 L108.54,126.36 L110.07,130.48 L111.60,134.54 L113.12,138.56 L114.65,142.53 L116.17,146.45 L117.70,150.32 L119.22,154.15 L120.75,157.93 L122.28,161.67 L123.80,165.35 L125.33,169.00 L126.85,172.60 L128.38,176.16 L129.90,179.67 L131.43,183.14 L132.96,186.57 L134.48,189.95 L136.01,193.30 L137.53,196.60 L139.06,199.87 L140.58,203.09 L142.11,206.28 L143.64,209.42 L145.16,212.53 L146.69,215.60 L148.21,218.63 L149.74,221.63 L151.26,224.58 L152.79,227.51 L154.32,230.39 L155.84,233.24 L157.37,236.06 L158.89,238.84 L160.42,241.58 L161.94,244.29 L163.47,246.97 L165.00,249.62 L166.52,252.23 L168.05,254.82 L169.57,257.37 L171.10,259.88 L172.63,262.37 L174.15,264.83 L175.68,267.26 L177.20,269.65 L178.73,272.02 L180.25,274.36 L181.78,276.67 L183.31,278.96 L184.83,281.21 L186.36,283.44 L187.88,285.64 L189.41,287.82 L190.93,289.97 L192.46,292.09 L193.99,294.19 L195.51,296.26 L197.04,298.31 L198.56,300.34 L200.09,302.34 L201.61,304.31 L203.14,306.27 L204.67,308.20 L206.19,310.11 L207.72,312.00 L209.24,313.87 L210.77,315.71 L212.29,317.54 L213.82,319.34 L215.35,321.13 L216.87,322.89 L218.40,324.63 L219.92,326.36 L221.45,328.07 L222.98,329.76 L224.50,331.42 L226.03,333.08 L227.55,334.71 L229.08,336.33 L230.60,337.92 L232.13,339.51 L233.66,341.07 L235.18,342.62 L236.71,344.15 L238.23,345.67 L239.76,347.16 L241.28,348.65 L242.81,350.11 L244.34,351.57 L245.86,353.00 L247.39,354.42 L248.91,355.83 L250.44,357.22 L251.96,358.60 L253.49,359.96 L255.02,361.31 L256.54,362.64 L258.07,363.96 L259.59,365.26 L261.12,366.55 L262.64,367.82 L264.17,369.09 L265.70,370.33 L267.22,371.57 L268.75,372.79 L270.27,373.99 L271.80,375.19 L273.32,376.37 L274.85,377.53 L276.38,378.69 L277.90,379.83 L279.43,380.95 L280.95,382.07 L282.48,383.17 L284.01,384.26 L285.53,385.34 L287.06,386.40 L288.58,387.45 L290.11,388.49 L291.63,389.52 L293.16,390.54 L294.69,391.54 L296.21,392.53 L297.74,393.51 L299.26,394.48 L300.79,395.44 L302.31,396.39 L303.84,397.32 L305.37,398.25 L306.89,399.16 L308.42,400.06 L309.94,400.96 L311.47,401.84 L312.99,402.71 L314.52,403.57 L316.05,404.43 L317.57,405.27 L319.10,406.10 L320.62,406.92 L322.15,407.73 L323.67,408.54 L325.20,409.33 L326.73,410.12 L328.25,410.89 L329.78,411.66 L331.30,412.42 L332.83,413.17 L334.35,413.91 L335.88,414.64 L337.41,415.37 L338.93,416.08 L340.46,416.79 L341.98,417.49 L343.51,418.18 L345.03,418.87 L346.56,419.54 L348.09,420.21 L349.61,420.87 L351.14,421.53 L352.66,422.17 L354.19,422.81 L355.72,423.44 L357.24,424.07 L358.77,424.69 L360.29,425.30 L361.82,425.90 L363.34,426.50 L364.87,427.09 L366.40,427.68 L367.92,428.25 L369.45,428.83 L370.97,429.39 L372.50,429.95 L374.02,430.50 L375.55,431.05 L377.08,431.59 L378.60,432.12 L380.13,432.65 L381.65,433.18 L383.18,433.69 L384.70,434.20 L386.23,434.71 L387.76,435.21 L389.28,435.70 L390.81,436.19 L392.33,436.68 L393.86,437.16 L395.38,437.63 L396.91,438.10 L398.44,438.56 L399.96,439.02 L401.49,439.47 L403.01,439.92 L404.54,440.36 L406.07,440.80 L407.59,441.23 L409.12,441.66 L410.64,442.08 L412.17,442.50 L413.69,442.92 L415.22,443.33 L416.75,443.73 L418.27,444.13 L419.80,444.53 L421.32,444.92 L422.85,445.31 L424.37,445.69 L425.90,446.07 L427.43,446.45 L428.95,446.82 L430.48,447.19 L432.00,447.55 L433.53,447.91 L435.05,448.27 L436.58,448.62 L438.11,448.97 L439.63,449.31 L441.16,449.65 L442.68,449.99 L444.21,450.32 L445.73,450.65 L447.26,450.97 L448.79,451.30 L450.31,451.62 L451.84,451.93 L453.36,452.24 L454.89,452.55 L456.41,452.86 L457.94,453.16 L459.47,453.46 L460.99,453.75 L462.52,454.05 L464.04,454.34 L465.57,454.62 L467.10,454.91 L468.62,455.19 L470.15,455.46 L471.67,455.74 L473.20,456.01 L474.72,456.28 L476.25,456.54 L477.78,456.81 L479.30,457.07 L480.83,457.32 L482.35,457.58 L483.88,457.83 L485.40,458.08 L486.93,458.33 L488.46,458.57 L489.98,458.81 L491.51,459.05 L493.03,459.29 L494.56,459.52 L496.08,459.76 L497.61,459.99 L499.14,460.21 L500.66,460.44 L502.19,460.66 L503.71,460.88 L505.24,461.10 L506.76,461.32 L508.29,461.53 L509.82,461.74 L511.34,461.95 L512.87,462.16 L514.39,462.36 L515.92,462.57 L517.44,462.77 L518.97,462.97 L520.50,463.17 L522.02,463.36 L523.55,463.56 L525.07,463.75 L526.60,463.94 L528.13,464.13 L529.65,464.31 L531.18,464.50 L532.70,464.68 L534.23,464.86 L535.75,465.04 L537.28,465.22 L538.81,465.40 L540.33,465.57 L541.86,465.75 L543.38,465.92 L544.91,466.09 L546.43,466.26 L547.96,466.43 L549.49,466.59 L551.01,466.76 L552.54,466.92 L554.06,467.08 L555.59,467.24 L557.11,467.40 L558.64,467.56 L560.17,467.72 L561.69,467.87 L563.22,468.02 L564.74,468.18 L566.27,468.33 L567.79,468.48 L569.32,468.63 L570.85,468.77 L572.37,468.92 L573.90,469.07 L575.42,469.21 L576.95,469.35 L578.47,469.50 L580.00,469.64 L581.53,469.78 L583.05,469.92 L584.58,470.06 L586.10,470.19 L587.63,470.33 L589.15,470.46 L590.68,470.60 L592.21,470.73 L593.73,470.86 L595.26,471.00 L596.78,471.13 L598.31,471.26 L599.84,471.39 L601.36,471.51 L602.89,471.64 L604.41,471.77 L605.94,471.89 L607.46,472.02 L608.99,472.14 L610.52,472.27 L612.04,472.39 L613.57,472.51 L615.09,472.63 L616.62,472.76 L618.14,472.88 L619.67,473.00 L621.20,473.11 L622.72,473.23 L624.25,473.35 L625.77,473.47 L627.30,473.58 L628.82,473.70 L630.35,473.82 L631.88,473.93 L633.40,474.05 L634.93,474.16 L636.45,474.27 L637.98,474.39 L639.50,474.50 L641.03,474.61 L642.56,474.72 L644.08,474.83 L645.61,474.95 L647.13,475.06 L648.66,475.17 L650.19,475.28 L651.71,475.38 L653.24,475.49 L654.76,475.60 L656.29,475.71 L657.81,475.82 L659.34,475.93 L660.87,476.03 L662.39,476.14 L663.92,476.25 L665.44,476.35 L666.97,476.46 L668.49,476.56 L670.02,476.67 L671.55,476.77 L673.07,476.88 L674.60,476.98 L676.12,477.09 L677.65,477.19 L679.17,477.30 L680.70,477.40" stroke="#0000ff" stroke-dasharray="4.2 4.2"/>
<path d="M70.41,5.60 L71.93,10.59 L73.46,15.55 L74.99,20.45 L76.52,25.32 L78.04,30.14 L79.57,34.91 L81.10,39.64 L82.63,44.33 L84.16,48.98 L85.69,53.58 L87.22,58.14 L88.75,62.65 L90.29,67.12 L91.82,71.55 L93.35,75.93 L94.89,80.28 L96.42,84.58 L97.96,88.84 L99.49,93.05 L101.03,97.23 L102.57,101.36 L104.10,105.45 L105.64,109.50 L107.18,113.51 L108.72,117.48 L110.26,121.41 L111.80,125.29 L113.34,129.14 L114.89,132.95 L116.43,136.72 L117.97,140.45 L119.52,144.14 L121.06,147.79 L122.60,151.40 L124.15,154.98 L125.69,158.51 L127.24,162.01 L128.78,165.48 L130.32,168.90 L131.87,172.29 L133.41,175.64 L134.95,178.95 L136.50,182.23 L138.04,185.48 L139.58,188.69 L141.12,191.86 L142.66,195.00 L144.20,198.10 L145.74,201.17 L147.28,204.21 L148.82,207.21 L150.36,210.18 L151.89,213.11 L153.43,216.02 L154.97,218.89 L156.50,221.73 L158.03,224.53 L159.57,227.31 L161.10,230.05 L162.63,232.77 L164.16,235.45 L165.69,238.10 L167.22,240.72 L168.75,243.32 L170.27,245.88 L171.80,248.42 L173.33,250.92 L174.85,253.40 L176.37,255.85 L177.90,258.27 L179.42,260.66 L180.94,263.03 L182.47,265.37 L183.99,267.69 L185.51,269.98 L187.03,272.24 L188.55,274.48 L190.07,276.69 L191.59,278.88 L193.11,281.04 L194.63,283.18 L196.15,285.30 L197.66,287.39 L199.18,289.46 L200.70,291.51 L202.22,293.53 L203.74,295.53 L205.25,297.51 L206.77,299.47 L208.29,301.41 L209.80,303.33 L211.32,305.23 L212.84,307.11 L214.35,308.97 L215.87,310.81 L217.39,312.62 L218.90,314.43 L220.42,316.21 L221.94,317.97 L223.45,319.72 L224.97,321.45 L226.49,323.16 L228.00,324.85 L229.52,326.53 L231.04,328.18 L232.55,329.83 L234.07,331.45 L235.59,333.06 L237.11,334.66 L238.62,336.23 L240.14,337.80 L241.66,339.34 L243.18,340.87 L244.69,342.39 L246.21,343.89 L247.73,345.37 L249.25,346.85 L250.77,348.30 L252.29,349.74 L253.80,351.17 L255.32,352.58 L256.84,353.98 L258.36,355.36 L259.88,356.73 L261.40,358.09 L262.92,359.43 L264.44,360.76 L265.96,362.07 L267.48,363.37 L269.00,364.66 L270.52,365.93 L272.04,367.19 L273.56,368.44 L275.08,369.67 L276.60,370.89 L278.12,372.10 L279.64,373.30 L281.16,374.48 L282.68,375.65 L284.20,376.80 L285.73,377.95 L287.25,379.08 L288.77,380.20 L290.29,381.30 L291.81,382.40 L293.33,383.48 L294.86,384.55 L296.38,385.61 L297.90,386.66 L299.42,387.69 L300.94,388.72 L302.47,389.73 L303.99,390.73 L305.51,391.73 L307.03,392.71 L308.56,393.67 L310.08,394.63 L311.60,395.58 L313.13,396.52 L314.65,397.45 L316.17,398.36 L317.69,399.27 L319.22,400.17 L320.74,401.05 L322.26,401.93 L323.79,402.80 L325.31,403.66 L326.83,404.51 L328.36,405.35 L329.88,406.18 L331.41,407.00 L332.93,407.81 L334.45,408.61 L335.98,409.41 L337.50,410.19 L339.02,410.97 L340.55,411.74 L342.07,412.50 L343.60,413.26 L345.12,414.00 L346.64,414.74 L348.17,415.46 L349.69,416.19 L351.22,416.90 L352.74,417.60 L354.27,418.30 L355.79,418.99 L357.31,419.67 L358.84,420.35 L360.36,421.02 L361.89,421.68 L363.41,422.33 L364.94,422.98 L366.46,423.62 L367.99,424.25 L369.51,424.88 L371.04,425.50 L372.56,426.11 L374.09,426.72 L375.61,427.32 L377.13,427.91 L378.66,428.50 L380.18,429.08 L381.71,429.65 L383.23,430.22 L384.76,430.78 L386.28,431.34 L387.81,431.89 L389.33,432.43 L390.86,432.97 L392.38,433.50 L393.91,434.02 L395.43,434.55 L396.96,435.06 L398.48,435.57 L400.01,436.07 L401.53,436.57 L403.06,437.06 L404.58,437.55 L406.11,438.03 L407.63,438.51 L409.16,438.98 L410.68,439.44 L412.21,439.90 L413.74,440.36 L415.26,440.81 L416.79,441.26 L418.31,441.70 L419.84,442.13 L421.36,442.56 L422.89,442.99 L424.41,443.41 L425.94,443.83 L427.46,444.24 L428.99,444.64 L430.51,445.05 L432.04,445.44 L433.56,445.84 L435.09,446.23 L436.61,446.61 L438.14,446.99 L439.66,447.37 L441.19,447.74 L442.72,448.11 L444.24,448.47 L445.77,448.83 L447.29,449.18 L448.82,449.53 L450.34,449.88 L451.87,450.22 L453.39,450.56 L454.92,450.90 L456.44,451.23 L457.97,451.56 L459.50,451.88 L461.02,452.20 L462.55,452.52 L464.07,452.83 L465.60,453.14 L467.12,453.45 L468.65,453.75 L470.17,454.05 L471.70,454.34 L473.22,454.63 L474.75,454.92 L476.28,455.21 L477.80,455.49 L479.33,455.77 L480.85,456.04 L482.38,456.31 L483.90,456.58 L485.43,456.85 L486.95,457.11 L488.48,457.37 L490.01,457.63 L491.53,457.88 L493.06,458.13 L494.58,458.38 L496.11,458.63 L497.63,458.87 L499.16,459.11 L500.68,459.35 L502.21,459.58 L503.74,459.82 L505.26,460.04 L506.79,460.27 L508.31,460.50 L509.84,460.72 L511.36,460.94 L512.89,461.15 L514.41,461.37 L515.94,461.58 L517.47,461.79 L518.99,462.00 L520.52,462.20 L522.04,462.40 L523.57,462.61 L525.09,462.80 L526.62,463.00 L528.15,463.20 L529.67,463.39 L531.20,463.58 L532.72,463.77 L534.25,463.95 L535.77,464.14 L537.30,464.32 L538.82,464.50 L540.35,464.68 L541.88,464.86 L543.40,465.03 L544.93,465.21 L546.45,465.38 L547.98,465.55 L549.50,465.72 L551.03,465.89 L552.56,466.05 L554.08,466.22 L555.61,466.38 L557.13,466.54 L558.66,466.70 L560.18,466.86 L561.71,467.02 L563.23,467.17 L564.76,467.33 L566.29,467.48 L567.81,467.63 L569.34,467.78 L570.86,467.93 L572.39,468.08 L573.91,468.23 L575.44,468.37 L576.97,468.52 L578.49,468.66 L580.02,468.81 L581.54,468.95 L583.07,469.09 L584.59,469.23 L586.12,469.37 L587.65,469.51 L589.17,469.65 L590.70,469.78 L592.22,469.92 L593.75,470.05 L595.27,470.19 L596.80,470.32 L598.33,470.46 L599.85,470.59 L601.38,470.72 L602.90,470.85 L604.43,470.98 L605.95,471.12 L607.48,471.25 L609.00,471.38 L610.53,471.50 L612.06,471.63 L613.58,471.76 L615.11,471.89 L616.63,472.02 L618.16,472.15 L619.68,472.27 L621.21,472.40 L622.74,472.53 L624.26,472.65 L625.79,472.78 L627.31,472.90 L628.84,473.03 L630.36,473.16 L631.89,473.28 L633.42,473.41 L634.94,473.53 L636.47,473.66 L637.99,473.79 L639.52,473.91 L641.04,474.04 L642.57,474.16 L644.10,474.29 L645.62,474.42 L647.15,474.54 L648.67,474.67 L650.20,474.79 L651.72,474.92 L653.25,475.05 L654.78,475.18 L656.30,475.30 L657.83,475.43 L659.35,475.56 L660.88,475.69 L662.40,475.82 L663.93,475.95 L665.46,476.08 L666.98,476.21 L668.51,476.34 L670.03,476.47 L671.56,476.60 L673.08,476.73 L674.61,476.86 L676.14,477.00 L677.66,477.13 L679.19,477.27 L680.71,477.40" stroke="#0000ff" stroke-dasharray="4.2 4.2"/>
<path d="M70.41,5.60 L71.94,10.03 L73.47,14.44 L75.00,18.83 L76.53,23.20 L78.06,27.55 L79.59,31.88 L81.12,36.19 L82.65,40.47 L84.18,44.72 L85.71,48.96 L87.25,53.16 L88.78,57.35 L90.32,61.50 L91.85,65.63 L93.39,69.72 L94.93,73.79 L96.47,77.84 L98.01,81.85 L99.55,85.83 L101.09,89.78 L102.63,93.71 L104.18,97.60 L105.72,101.46 L107.27,105.29 L108.82,109.09 L110.37,112.86 L111.92,116.59 L113.47,120.30 L115.02,123.97 L116.58,127.61 L118.13,131.22 L119.68,134.80 L121.24,138.35 L122.80,141.86 L124.35,145.34 L125.91,148.79 L127.47,152.21 L129.03,155.59 L130.58,158.95 L132.14,162.27 L133.70,165.56 L135.26,168.82 L136.82,172.04 L138.37,175.24 L139.93,178.40 L141.49,181.53 L143.04,184.63 L144.60,187.70 L146.15,190.74 L147.70,193.75 L149.25,196.73 L150.81,199.68 L152.36,202.59 L153.90,205.48 L155.45,208.34 L157.00,211.17 L158.54,213.96 L160.09,216.73 L161.63,219.47 L163.17,222.18 L164.71,224.87 L166.25,227.52 L167.78,230.15 L169.32,232.75 L170.85,235.32 L172.38,237.86 L173.92,240.38 L175.45,242.87 L176.97,245.33 L178.50,247.77 L180.03,250.18 L181.55,252.57 L183.08,254.93 L184.60,257.27 L186.12,259.58 L187.64,261.86 L189.16,264.13 L190.68,266.36 L192.20,268.58 L193.72,270.77 L195.23,272.94 L196.75,275.09 L198.26,277.21 L199.78,279.32 L201.29,281.40 L202.81,283.46 L204.32,285.50 L205.83,287.51 L207.34,289.51 L208.85,291.49 L210.36,293.45 L211.88,295.39 L213.39,297.31 L214.90,299.21 L216.41,301.09 L217.92,302.95 L219.43,304.80 L220.94,306.63 L222.44,308.44 L223.95,310.23 L225.46,312.00 L226.97,313.76 L228.48,315.51 L229.99,317.23 L231.50,318.94 L233.01,320.63 L234.52,322.31 L236.03,323.97 L237.54,325.62 L239.05,327.25 L240.56,328.87 L242.07,330.47 L243.58,332.06 L245.09,333.63 L246.60,335.18 L248.11,336.73 L249.62,338.25 L251.13,339.77 L252.64,341.27 L254.15,342.75 L255.67,344.23 L257.18,345.68 L258.69,347.13 L260.20,348.56 L261.71,349.97 L263.23,351.38 L264.74,352.77 L266.25,354.14 L267.77,355.51 L269.28,356.85 L270.79,358.19 L272.31,359.51 L273.82,360.83 L275.34,362.12 L276.85,363.41 L278.37,364.68 L279.88,365.94 L281.40,367.18 L282.91,368.42 L284.43,369.64 L285.95,370.85 L287.46,372.05 L288.98,373.23 L290.50,374.40 L292.01,375.56 L293.53,376.71 L295.05,377.85 L296.57,378.97 L298.08,380.09 L299.60,381.19 L301.12,382.28 L302.64,383.36 L304.16,384.43 L305.68,385.49 L307.19,386.53 L308.71,387.57 L310.23,388.59 L311.75,389.61 L313.27,390.61 L314.79,391.60 L316.31,392.58 L317.83,393.56 L319.35,394.52 L320.87,395.47 L322.39,396.41 L323.91,397.34 L325.43,398.27 L326.95,399.18 L328.48,400.08 L330.00,400.98 L331.52,401.86 L333.04,402.74 L334.56,403.60 L336.08,404.46 L337.60,405.31 L339.13,406.15 L340.65,406.98 L342.17,407.80 L343.69,408.62 L345.21,409.42 L346.74,410.22 L348.26,411.01 L349.78,411.79 L351.30,412.56 L352.83,413.32 L354.35,414.08 L355.87,414.83 L357.39,415.57 L358.92,416.30 L360.44,417.02 L361.96,417.74 L363.49,418.45 L365.01,419.15 L366.53,419.85 L368.06,420.53 L369.58,421.21 L371.10,421.88 L372.63,422.55 L374.15,423.21 L375.67,423.86 L377.20,424.50 L378.72,425.14 L380.24,425.77 L381.77,426.39 L383.29,427.01 L384.82,427.62 L386.34,428.22 L387.86,428.82 L389.39,429.41 L390.91,429.99 L392.44,430.57 L393.96,431.14 L395.48,431.70 L397.01,432.26 L398.53,432.81 L400.06,433.36 L401.58,433.90 L403.10,434.43 L404.63,434.96 L406.15,435.48 L407.68,435.99 L409.20,436.50 L410.73,437.01 L412.25,437.50 L413.78,438.00 L415.30,438.48 L416.83,438.96 L418.35,439.44 L419.87,439.91 L421.40,440.37 L422.92,440.83 L424.45,441.29 L425.97,441.73 L427.50,442.18 L429.02,442.62 L430.55,443.05 L432.07,443.48 L433.60,443.90 L435.12,444.32 L436.65,444.73 L438.17,445.14 L439.70,445.54 L441.22,445.94 L442.75,446.33 L444.27,446.72 L445.80,447.10 L447.32,447.48 L448.85,447.86 L450.37,448.23 L451.90,448.59 L453.42,448.95 L454.95,449.31 L456.47,449.66 L458.00,450.01 L459.52,450.35 L461.05,450.69 L462.57,451.03 L464.10,451.36 L465.62,451.69 L467.15,452.01 L468.67,452.33 L470.20,452.65 L471.72,452.96 L473.25,453.27 L474.77,453.57 L476.30,453.87 L477.83,454.17 L479.35,454.46 L480.88,454.75 L482.40,455.03 L483.93,455.32 L485.45,455.60 L486.98,455.87 L488.50,456.14 L490.03,456.41 L491.55,456.68 L493.08,456.94 L494.60,457.20 L496.13,457.45 L497.65,457.71 L499.18,457.96 L500.71,458.20 L502.23,458.45 L503.76,458.69 L505.28,458.93 L506.81,459.16 L508.33,459.39 L509.86,459.62 L511.38,459.85 L512.91,460.08 L514.43,460.30 L515.96,460.52 L517.49,460.73 L519.01,460.95 L520.54,461.16 L522.06,461.37 L523.59,461.58 L525.11,461.78 L526.64,461.98 L528.16,462.18 L529.69,462.38 L531.21,462.58 L532.74,462.77 L534.27,462.96 L535.79,463.15 L537.32,463.34 L538.84,463.53 L540.37,463.71 L541.89,463.89 L543.42,464.07 L544.94,464.25 L546.47,464.43 L548.00,464.61 L549.52,464.78 L551.05,464.95 L552.57,465.12 L554.10,465.29 L555.62,465.46 L557.15,465.62 L558.67,465.79 L560.20,465.95 L561.73,466.11 L563.25,466.28 L564.78,466.44 L566.30,466.59 L567.83,466.75 L569.35,466.91 L570.88,467.06 L572.40,467.22 L573.93,467.37 L575.46,467.52 L576.98,467.67 L578.51,467.82 L580.03,467.97 L581.56,468.12 L583.08,468.27 L584.61,468.41 L586.13,468.56 L587.66,468.70 L589.19,468.85 L590.71,468.99 L592.24,469.14 L593.76,469.28 L595.29,469.42 L596.81,469.56 L598.34,469.70 L599.87,469.84 L601.39,469.98 L602.92,470.12 L604.44,470.26 L605.97,470.40 L607.49,470.54 L609.02,470.68 L610.54,470.82 L612.07,470.96 L613.60,471.10 L615.12,471.23 L616.65,471.37 L618.17,471.51 L619.70,471.65 L621.22,471.79 L622.75,471.92 L624.27,472.06 L625.80,472.20 L627.33,472.34 L628.85,472.47 L630.38,472.61 L631.90,472.75 L633.43,472.89 L634.95,473.03 L636.48,473.17 L638.01,473.31 L639.53,473.45 L641.06,473.59 L642.58,473.73 L644.11,473.87 L645.63,474.01 L647.16,474.15 L648.68,474.29 L650.21,474.43 L651.74,474.58 L653.26,474.72 L654.79,474.86 L656.31,475.01 L657.84,475.15 L659.36,475.30 L660.89,475.44 L662.42,475.59 L663.94,475.74 L665.47,475.88 L666.99,476.03 L668.52,476.18 L670.04,476.33 L671.57,476.48 L673.09,476.63 L674.62,476.78 L676.15,476.94 L677.67,477.09 L679.20,477.24 L680.72,477.40" stroke="#0000ff" stroke-dasharray="4.2 4.2"/>
</g>
<g stroke="#ff00ff" fill="#ff00ff">
<path d="M291.1,285.6 L179.5,403.7" stroke-width="3.9" fill="none"/>
<path d="M169.9,413.8 L178.0,395.1 L181.2,402.6 L188.6,405.2 Z" stroke="none"/>
</g>
<g font-family="'Liberation Serif', serif" font-size="20.65" fill="#000" stroke="#000" stroke-width="0.2">
<text x="390.2" y="34.9">Green</text><text x="456.8" y="34.9">Ternary hybrid nanofluid</text>
<text x="390.2" y="59.2">Red</text><text x="454.5" y="59.2">Hybrid nanofluid</text>
<text x="390.2" y="83.5">Blue</text><text x="455.4" y="83.5">Nanofluid</text>
</g>
<text x="375.5" y="542.0" text-anchor="middle" font-family="'Liberation Serif', serif" font-style="italic" font-size="23.3" fill="#1e1e1e">η</text>
<text transform="translate(16.0,266.6) rotate(-90)" text-anchor="start" font-family="'Liberation Sans', sans-serif" font-size="20.6" fill="#1e1e1e">f '(<tspan font-family="'Liberation Serif', serif" font-style="italic" font-size="23.3" dx="0.5">η</tspan><tspan dx="0.9">)</tspan></text>
</svg>
</body></html>
